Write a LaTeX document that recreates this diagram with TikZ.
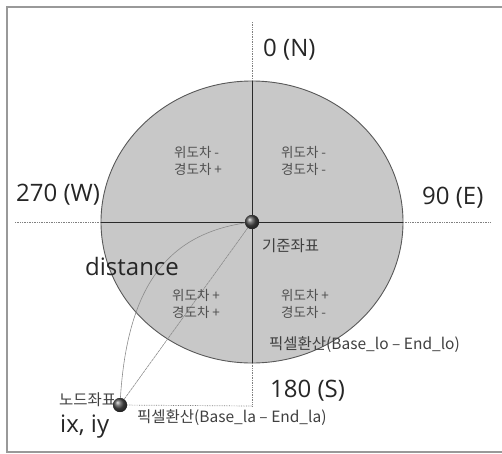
\documentclass[tikz,border=0pt]{standalone}
\usepackage{fontspec}
\setmainfont{Open Sans}
\newfontfamily\kr{Noto Sans CJK KR}
\definecolor{fillgray}{HTML}{C8C8C8}
\definecolor{linedark}{HTML}{2A2A2A}
\definecolor{txtgray}{HTML}{505050}
\begin{document}
\begin{tikzpicture}[x=1pt,y=-1pt,
  big/.style={font=\fontsize{24}{27}\selectfont, text=black!85, inner sep=0pt},
  quad/.style={font=\kr\fontsize{13.5}{17}\selectfont, text=txtgray, align=left, inner sep=0pt},
  krlbl/.style={font=\kr\fontsize{15.5}{18}\selectfont, text=black!75, inner sep=0pt},
  guide/.style={gray, densely dotted, line width=0.7pt},
  axis/.style={linedark, line width=0.9pt},
  ball/.style={circle, minimum size=14pt, inner sep=0pt, ball color=black!70, draw=none},
  frameline/.style={gray!80, line width=1.6pt}]
\useasboundingbox (0,0) rectangle (502,453);
% frame
\draw[frameline] (502,7) -- (7,7) -- (7,452) -- (502,452);
% circle
\draw[fill=fillgray, draw=black!65, line width=0.9pt] (252,222) ellipse [x radius=151, y radius=141];
% axes
\coordinate (ntop) at (252,22);
\coordinate (ctop) at (252,81);
\coordinate (cbot) at (252,363);
\coordinate (sbot) at (252,406);
\coordinate (wend) at (15,222);
\coordinate (cleft) at (101,222);
\coordinate (cright) at (403,222);
\coordinate (eend) at (490,222);
\draw[guide] (ntop) -- (ctop);
\draw[axis] (ctop) -- (cbot);
\draw[guide] (cbot) -- (sbot);
\draw[guide] (wend) -- (cleft);
\draw[axis] (cleft) -- (cright);
\draw[guide] (cright) -- (eend);
% points
\node[ball] (base) at (252,222) {};
\node[ball] (nodept) at (120,405) {};
\draw[guide] (nodept) -- (sbot);
\draw[gray!90, line width=0.6pt] (nodept.center) .. controls (126,285) and (168,232) .. (base.center);
\draw[gray!90, dash pattern=on 3pt off 0.6pt, line width=0.6pt] (nodept.center) -- (base.center);
\node[ball] at (252,222) {};
% compass labels
\node[big, anchor=west] (north) at (263,50) {0 (N)};
\node[big, anchor=west] (west) at (16,195) {270 (W)};
\node[big, anchor=west] (east) at (422,198) {90 (E)};
\node[big, anchor=west] (south) at (270,391) {180 (S)};
\node[big, anchor=west] (dist) at (85,266) {distance};
\node[big, anchor=west] (ixiy) at (60,427) {ix, iy};
% quadrant labels
\node[quad, anchor=west] (q1) at (174,161) {위도차 -\\경도차 +};
\node[quad, anchor=west] (q2) at (281,161) {위도차 -\\경도차 -};
\node[quad, anchor=west] (q3) at (172,304) {위도차 +\\경도차 +};
\node[quad, anchor=west] (q4) at (281,304) {위도차 +\\경도차 -};
% other labels
\node[krlbl, anchor=west] (basel) at (262,246) {기준좌표};
\node[krlbl, anchor=west] (nodel) at (59,400) {노드좌표};
\node[krlbl, anchor=west] (lo) at (269,345) {픽셀환산(Base\_lo – End\_lo)};
\node[krlbl, anchor=west] (la) at (137,418) {픽셀환산(Base\_la – End\_la)};
\node[ball] at (120,405) {};
\end{tikzpicture}
\end{document}
